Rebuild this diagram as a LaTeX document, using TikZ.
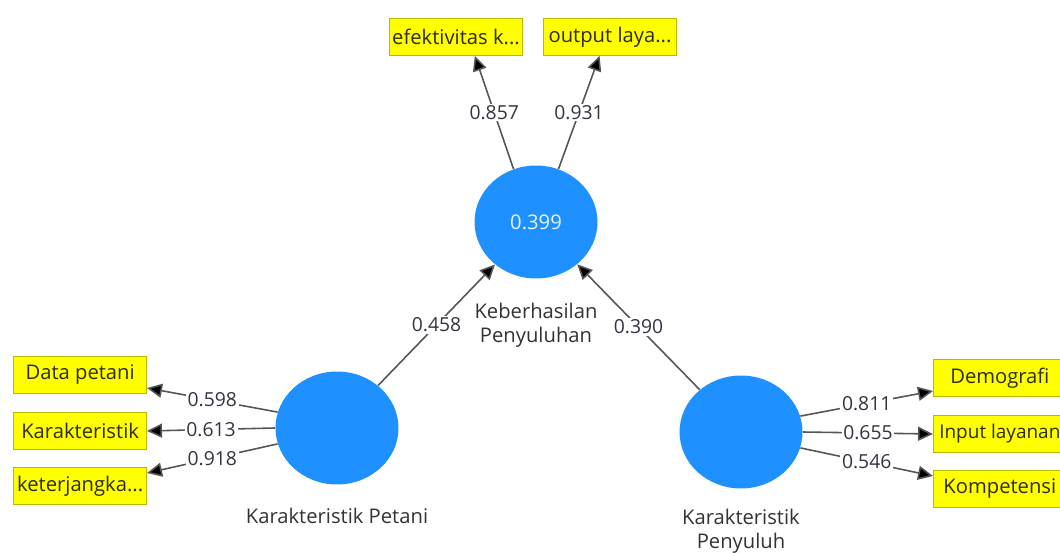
\documentclass[tikz,border=0pt]{standalone}
\usepackage{fontspec}
\setmainfont{Open Sans}
\usepackage{tikz}
\usetikzlibrary{arrows.meta,shapes.geometric}
\definecolor{lv}{RGB}{30,144,255}
\definecolor{ind}{RGB}{255,255,0}
\definecolor{indline}{RGB}{185,185,0}
\definecolor{indtext}{RGB}{45,45,10}
\definecolor{pathline}{RGB}{85,85,85}
\definecolor{coef}{RGB}{55,50,65}
\tikzset{
  latent/.style={ellipse, fill=lv, draw=none, minimum width=2.46cm, minimum height=2.26cm,
    text=white!90!lv, font=\fontsize{11.5}{13}\selectfont},
  indic/.style={draw=indline, fill=ind, minimum width=2.66cm, minimum height=0.74cm,
    inner sep=1pt, text=indtext, font=\fontsize{11.5}{13}\selectfont},
  lvname/.style={align=center, text=black!80, font=\fontsize{11.5}{13.5}\selectfont},
  flow/.style={draw=pathline, line width=0.9pt, -{Triangle[length=3mm,width=2.8mm,fill=black]}},
  lbl/.style={font=\fontsize{11}{13}\selectfont, text=coef, fill=white, inner sep=1pt}
}
\begin{document}
\begin{tikzpicture}[x=0.02cm, y=-0.02cm]
  \useasboundingbox (0,0) rectangle (1060,553);
  % konstruk laten
  \node[latent] (kb) at (536,222) {0.399};
  \node[latent] (kp) at (337,428) {};
  \node[latent] (kpy) at (741,432) {};
  \node[lvname] (kbl) at (536,325) {Keberhasilan\\Penyuluhan};
  \node[lvname] (kpl) at (337,516) {Karakteristik Petani};
  \node[lvname] (kpyl) at (741,531) {Karakteristik\\Penyuluh};
  % indikator
  \node[indic] (ef) at (456,37) {efektivitas k...};
  \node[indic] (ol) at (610,37) {output laya...};
  \node[indic, anchor=east] (dp) at (147,375) {Data petani};
  \node[indic, anchor=east] (kk) at (147,431) {Karakteristik};
  \node[indic, anchor=east] (kj) at (147,486) {keterjangka...};
  \node[indic, anchor=west] (dm) at (933,378) {Demografi};
  \node[indic, anchor=west, font=\fontsize{10.8}{13}\selectfont] (il) at (933,434) {Input layanan};
  \node[indic, anchor=west] (km) at (933,489) {Kompetensi};
  % jalur struktural
  \draw[flow] (kp) -- node[lbl]{0.458} (kb);
  \draw[flow] (kpy) -- node[lbl]{0.390} (kb);
  % outer loading
  \draw[flow] (kb.113) -- node[lbl]{0.857} (ef.-45);
  \draw[flow] (kb.67) -- node[lbl]{0.931} (ol.-119);
  \draw[flow] (kp.165) -- node[lbl]{0.598} (dp.-11);
  \draw[flow] (kp.180) -- node[lbl]{0.613} (kk.east);
  \draw[flow] (kp.195) -- node[lbl]{0.918} (kj.11);
  \draw[flow] (kpy.15) -- node[lbl]{0.811} (dm.-169);
  \draw[flow] (kpy.0) -- node[lbl]{0.655} (il.west);
  \draw[flow] (kpy.-15) -- node[lbl]{0.546} (km.169);
\end{tikzpicture}
\end{document}
